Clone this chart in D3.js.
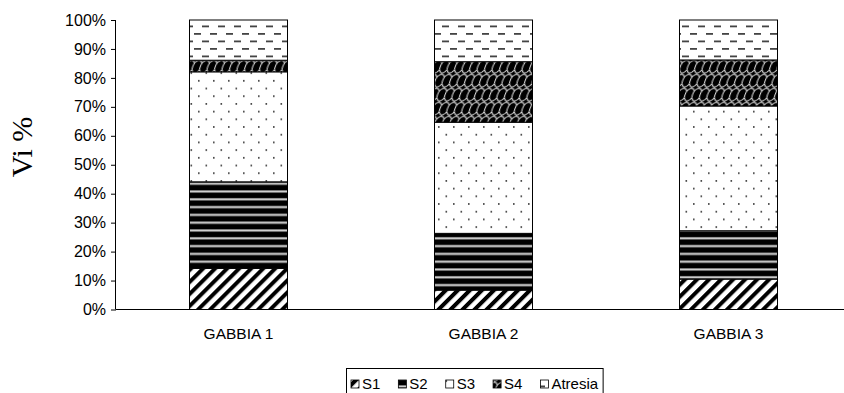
<!DOCTYPE html>
<html>
<head>
<meta charset="utf-8">
<script src="https://cdn.jsdelivr.net/npm/d3@7/dist/d3.min.js"></script>
<style>
  html, body { margin: 0; padding: 0; background: #fff; }
  svg { display: block; }
</style>
</head>
<body>
<svg id="chart" width="844" height="393"></svg>
<script>
const categories = ["GABBIA 1", "GABBIA 2", "GABBIA 3"];
const seriesNames = ["S1", "S2", "S3", "S4", "Atresia"];
const S1 = [14.2, 6.7, 10.5];
const S2 = [29.9, 19.6, 16.7];
const S3 = [38.0, 38.4, 43.1];
const S4 = [4.0, 20.9, 15.9];
const Atresia = [13.9, 14.4, 13.8];
const yTicks = [0, 10, 20, 30, 40, 50, 60, 70, 80, 90, 100];
const yTitle = "Vi %";

const seriesValues = { S1, S2, S3, S4, Atresia };
const table = categories.map((c, i) => {
  const row = { cat: c };
  seriesNames.forEach(s => row[s] = seriesValues[s][i]);
  return row;
});

const svg = d3.select("#chart");
const defs = svg.append("defs");

// S1: diagonal stripes
const p1 = defs.append("pattern").attr("id", "pS1").attr("patternUnits", "userSpaceOnUse")
  .attr("width", 8.5).attr("height", 8.5).attr("patternTransform", "rotate(45)");
p1.append("rect").attr("width", 8.5).attr("height", 8.5).attr("fill", "#fff");
p1.append("rect").attr("width", 4).attr("height", 8.5).attr("fill", "#000");

// S2: horizontal black with light lines
const p2 = defs.append("pattern").attr("id", "pS2").attr("patternUnits", "userSpaceOnUse")
  .attr("width", 8).attr("height", 7.8);
p2.append("rect").attr("width", 8).attr("height", 7.8).attr("fill", "#000");
p2.append("rect").attr("y", 3).attr("width", 8).attr("height", 1).attr("fill", "#999");
p2.append("rect").attr("y", 4).attr("width", 8).attr("height", 1.3).attr("fill", "#eee");

// S3: dots
const p3 = defs.append("pattern").attr("id", "pS3").attr("patternUnits", "userSpaceOnUse")
  .attr("width", 15).attr("height", 15.4);
p3.append("rect").attr("width", 15).attr("height", 15.4).attr("fill", "#fff");
p3.append("rect").attr("x", 3).attr("y", 3).attr("width", 1.6).attr("height", 1.6).attr("fill", "#333");
p3.append("rect").attr("x", 10.5).attr("y", 10.7).attr("width", 1.6).attr("height", 1.6).attr("fill", "#333");

// S4: black with white scale arcs (diagonal shingles)
const p4 = defs.append("pattern").attr("id", "pS4").attr("patternUnits", "userSpaceOnUse")
  .attr("width", 15).attr("height", 14).attr("patternTransform", "skewX(-20)");
p4.append("rect").attr("x", -5).attr("width", 25).attr("height", 14).attr("fill", "#000");
p4.append("path").attr("d", "M0,7 Q4,1 7.5,7 Q11,1 15,7 M-7.5,14 Q-3.5,8 0,14 M7.5,0 Q3.5,6 0,0 M7.5,0 Q11,6 15,0 M0,7 Q-1,11 0,14 M7.5,7 Q6.5,11 7.5,14 M15,7 Q14,11 15,14")
  .attr("fill", "none").attr("stroke", "#ddd").attr("stroke-width", 1.1);

// Atresia: dashes
const p5 = defs.append("pattern").attr("id", "pAtresia").attr("patternUnits", "userSpaceOnUse")
  .attr("width", 16).attr("height", 15);
p5.append("rect").attr("width", 16).attr("height", 15).attr("fill", "#fff");
p5.append("rect").attr("x", 2).attr("y", 3).attr("width", 7).attr("height", 1.8).attr("fill", "#444");
p5.append("rect").attr("x", 10).attr("y", 10.5).attr("width", 7).attr("height", 1.8).attr("fill", "#444");
p5.append("rect").attr("x", -6).attr("y", 10.5).attr("width", 7).attr("height", 1.8).attr("fill", "#444");

const fills = { S1: "url(#pS1)", S2: "url(#pS2)", S3: "url(#pS3)", S4: "url(#pS4)", Atresia: "url(#pAtresia)" };

const plotLeft = 116, plotRight = 851, plotTop = 20, plotBottom = 309.5;
const x = d3.scaleBand().domain(categories).range([plotLeft, plotRight]).paddingInner(0.6).paddingOuter(0.3);
const y = d3.scaleLinear().domain([0, 100]).range([plotBottom, plotTop]);

const stacked = d3.stack().keys(seriesNames)(table);

const g = svg.append("g");
stacked.forEach(layer => {
  g.selectAll(null).data(layer).enter().append("rect")
    .attr("x", d => x(d.data.cat))
    .attr("y", d => y(d[1]))
    .attr("width", x.bandwidth())
    .attr("height", d => y(d[0]) - y(d[1]))
    .attr("fill", fills[layer.key])
    .attr("stroke", "#000")
    .attr("stroke-width", 1);
});

// Y axis
const yAxis = svg.append("g").attr("transform", `translate(${plotLeft},0)`)
  .call(d3.axisLeft(y).tickValues(yTicks).tickSize(5).tickPadding(5).tickFormat(d => d + "%"));
yAxis.select(".domain").attr("stroke", "#000").attr("d", `M-0.5,${plotTop}V${plotBottom}`);
yAxis.selectAll(".tick line").attr("stroke", "#000");
yAxis.selectAll("text").attr("font-family", "Liberation Sans, Arial, sans-serif").attr("font-size", 16).attr("fill", "#000");

// X axis line
svg.append("line").attr("x1", plotLeft).attr("x2", 844).attr("y1", plotBottom).attr("y2", plotBottom)
  .attr("stroke", "#000").attr("stroke-width", 1.2);

// X labels
svg.selectAll(".xlab").data(categories).enter().append("text")
  .attr("x", d => x(d) + x.bandwidth() / 2)
  .attr("y", 339)
  .attr("text-anchor", "middle")
  .attr("font-family", "Liberation Sans, Arial, sans-serif")
  .attr("font-size", 15.5)
  .text(d => d);

// Y title
svg.append("text")
  .attr("transform", "translate(32,147) rotate(-90)")
  .attr("text-anchor", "middle")
  .attr("font-family", "Liberation Serif, Times New Roman, serif")
  .attr("font-size", 30)
  .text(yTitle);

// Legend
const leg = svg.append("g");
const legBox = leg.append("rect").attr("x", 346.5).attr("y", 368.5).attr("height", 30)
  .attr("fill", "#fff").attr("stroke", "#000").attr("stroke-width", 1);
let cx = 351;
seriesNames.forEach(s => {
  leg.append("rect").attr("x", cx).attr("y", 380).attr("width", 8).attr("height", 8)
    .attr("fill", fills[s]).attr("stroke", "#000").attr("stroke-width", 0.8);
  const t = leg.append("text").attr("x", cx + 11).attr("y", 388.5)
    .attr("font-family", "Liberation Sans, Arial, sans-serif").attr("font-size", 15).text(s);
  cx += 11 + t.node().getComputedTextLength() + 18;
});
legBox.attr("width", cx - 18 + 5 - 346.5);
</script>
</body>
</html>
